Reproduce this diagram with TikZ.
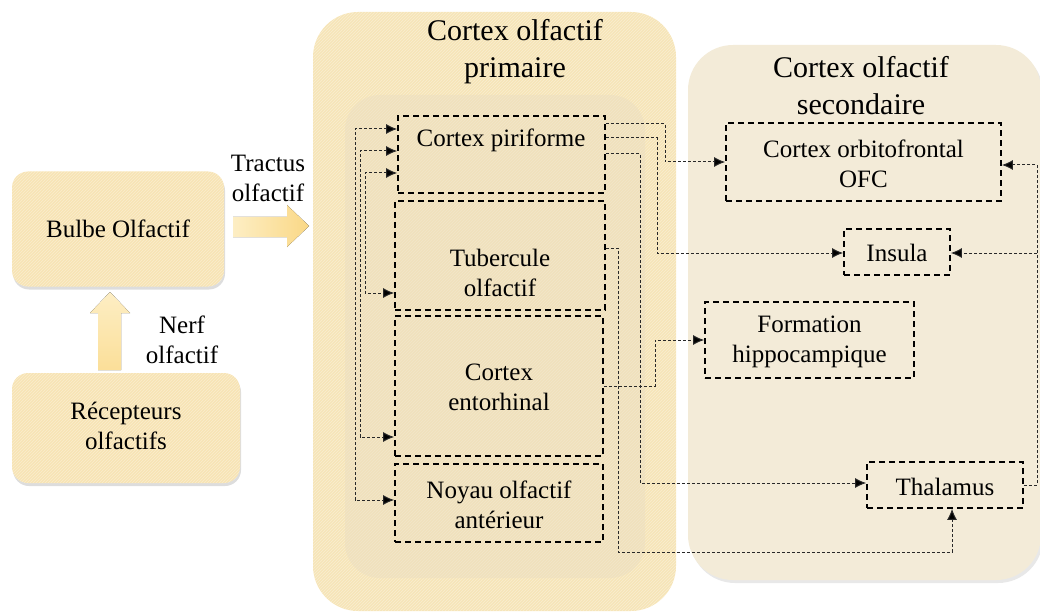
\documentclass[tikz,border=0pt]{standalone}
\usepackage{fontspec}
\setmainfont{Liberation Serif}
\usetikzlibrary{arrows.meta,shadows,calc,patterns}
\definecolor{primfill}{RGB}{246,229,184}
\definecolor{priminner}{RGB}{234,222,194}
\definecolor{secfill}{RGB}{243,235,216}
\definecolor{leftfill}{RGB}{247,228,180}
\definecolor{arrlight}{RGB}{253,238,196}
\definecolor{arrdark}{RGB}{250,216,134}
\definecolor{connc}{RGB}{40,40,40}
\tikzset{
  x=1pt, y=-1pt,
  txt/.style={font=\fontsize{25}{30}\selectfont, align=center, inner sep=0pt},
  ttl/.style={font=\fontsize{30}{37}\selectfont, align=center, inner sep=0pt},
  dbox/.style={draw=black, line width=1.7pt, dash pattern=on 6pt off 4pt, inner sep=0pt},
  lbox/.style={fill=leftfill, rounded corners=16pt, inner sep=0pt,
     drop shadow={shadow xshift=1pt, shadow yshift=-3pt, opacity=0.22, fill=black!60}},
  tex/.style={pattern=north east lines, pattern color=white, opacity=0.35},
  conn/.style={draw=connc, line width=1pt, dash pattern=on 3pt off 2pt,
     >={Latex[length=11pt,width=10pt,fill=black]}},
  fat/.style={left color=arrlight, right color=arrdark, draw=none},
  fatup/.style={bottom color=arrdark!70!arrlight, top color=arrlight, draw=none}
}
\begin{document}
\begin{tikzpicture}
\useasboundingbox (0,0) rectangle (1040,612);
% big regions
\fill[secfill, rounded corners=45pt, drop shadow={shadow xshift=2pt, shadow yshift=-3pt, opacity=0.18, fill=black!50}] (688,45) rectangle (1041,580);
\fill[primfill, rounded corners=45pt] (313,12) rectangle (676,611);
\fill[tex, rounded corners=45pt] (313,12) rectangle (676,611);
\fill[priminner, opacity=0.45, rounded corners=35pt] (345,95) rectangle (645,578);
\node[ttl] (tprim) at (515,52) {Cortex olfactif\\primaire};
\node[ttl] (tsec) at (861,86) {Cortex olfactif\\secondaire};

% left boxes
\node[lbox, minimum width=212pt, minimum height=115pt] (bulbe) at (118,229) {};
\fill[tex, rounded corners=16pt] (bulbe.south west) rectangle (bulbe.north east);
\node[txt] (tbulbe) at (118,229) {Bulbe Olfactif};
\node[lbox, minimum width=228pt, minimum height=110pt] (recep) at (126,428) {};
\fill[tex, rounded corners=16pt] (recep.south west) rectangle (recep.north east);
\node[txt] (trecep) at (126,426) {Récepteurs\\olfactifs};

% fat arrows
\fill[fatup] (98,370) -- (98,313) -- (90,313) -- (110,292) -- (130,313) -- (121,313) -- (121,370) -- cycle;
\node[txt] (tnerf) at (182,340) {Nerf\\olfactif};
\fill[fat] (233,217) -- (287,217) -- (287,205) -- (309,226) -- (287,247) -- (287,237) -- (233,237) -- cycle;
\node[txt] (ttract) at (268,178) {Tractus\\olfactif};

% primary boxes
\node[dbox, minimum width=207pt, minimum height=77pt] (pir) at (501.5,154.5) {};
\node[txt] (tpir) at (501,140) {Cortex piriforme};
\node[dbox, minimum width=210pt, minimum height=109pt] (tub) at (500,255.5) {};
\node[txt] (ttub) at (500,273) {Tubercule\\olfactif};
\node[dbox, minimum width=208pt, minimum height=140pt] (ent) at (499,386) {};
\node[txt] (tent) at (499,387) {Cortex\\entorhinal};
\node[dbox, minimum width=208pt, minimum height=78pt] (noy) at (499,503) {};
\node[txt] (tnoy) at (499,505) {Noyau olfactif\\antérieur};

% secondary boxes
\node[dbox, minimum width=275pt, minimum height=78pt] (ofc) at (863.5,162) {};
\node[txt] (tofc) at (863.5,164) {Cortex orbitofrontal\\OFC};
\node[dbox, minimum width=106pt, minimum height=46pt] (ins) at (897,252) {};
\node[txt] (tins) at (897,253) {Insula};
\node[dbox, minimum width=209pt, minimum height=76pt] (hip) at (809.5,340) {};
\node[txt] (thip) at (809.5,342) {Formation\\hippocampique};
\node[dbox, minimum width=156pt, minimum height=46pt] (thal) at (945,485) {};
\node[txt] (tthal) at (945,487) {Thalamus};

% left-side bidirectional connectors
\draw[conn,<->] (pir.west |- 0,129) -| (355,500) -- (noy.west |- 0,500);
\draw[conn,<->] (pir.west |- 0,151) -| (360,437) -- (ent.west |- 0,437);
\draw[conn,<->] (pir.west |- 0,173) -| (365,293) -- (tub.west |- 0,293);

% right-side connectors
\draw[conn,->] (pir.east |- 0,124) -| (665,162) -- (ofc.west |- 0,162);
\draw[conn,->] (pir.east |- 0,138) -| (657,253) -- (ins.west |- 0,253);
\draw[conn,->] (pir.east |- 0,154) -| (640,483) -- (thal.west |- 0,483);
\draw[conn,->] (tub.east |- 0,248) -| (618,552) -| (thal.south -| 952,0);
\draw[conn,->] (ent.east |- 0,386) -| (655,340) -- (hip.west |- 0,340);
\coordinate (jn) at (1037,253);
\draw[conn,->] (thal.east |- 0,485) -| (1037,165) -- (ofc.east |- 0,165);
\draw[conn,->] (jn) -- (ins.east |- jn);
\end{tikzpicture}
\end{document}
